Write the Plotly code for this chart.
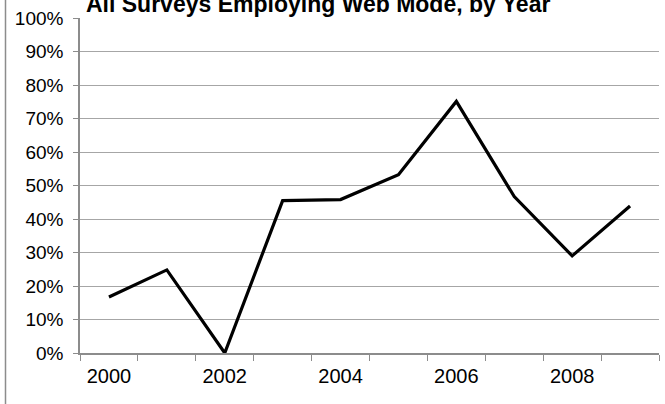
import plotly.graph_objects as go

# Share of surveys using the web mode, per year
years = ["2000", "2001", "2002", "2003", "2004", "2005", "2006", "2007", "2008", "2009"]
web_share = [0.167, 0.248, 0.0, 0.455, 0.458, 0.532, 0.751, 0.467, 0.290, 0.439]
year_labels = ["2000", "", "2002", "", "2004", "", "2006", "", "2008", ""]
title_text = "All Surveys Employing Web Mode, by Year"

W, H = 665, 404
ML, MR, MT, MB = 80, 6, 18, 51
plot_w = W - ML - MR
plot_h = H - MT - MB

fig = go.Figure()
fig.add_trace(go.Scatter(
    x=years, y=web_share, mode="lines",
    line=dict(color="black", width=3.2),
    hoverinfo="skip", showlegend=False,
))

axis_gray = "#8c8c8c"
grid_gray = "#a6a6a6"

fig.update_layout(
    width=W, height=H,
    margin=dict(l=ML, r=MR, t=MT, b=MB, pad=0),
    paper_bgcolor="white", plot_bgcolor="white",
    font=dict(family="Liberation Sans, Arial, sans-serif", color="black"),
    xaxis=dict(
        type="category",
        tickmode="array", tickvals=years, ticktext=year_labels,
        tickson="boundaries",
        ticks="outside", ticklen=6, tickwidth=1, tickcolor=axis_gray,
        showline=True, linecolor=axis_gray, linewidth=2,
        showgrid=False, zeroline=False,
        tickfont=dict(size=20, color="black"),
        ticklabelstandoff=4,
        range=[-0.5, len(years) - 0.5],
        fixedrange=True,
    ),
    yaxis=dict(
        range=[0, 1], dtick=0.1, tick0=0, tickformat=".0%",
        ticks="outside", ticklen=5, tickwidth=1, tickcolor=axis_gray,
        showline=True, linecolor=axis_gray, linewidth=1.5,
        showgrid=True, gridcolor=grid_gray, gridwidth=1,
        zeroline=False,
        tickfont=dict(size=19, color="black"),
        ticklabelstandoff=6,
        fixedrange=True,
    ),
)

# Chart title, partly above the top edge of the page
fig.add_annotation(
    text="<b>" + title_text + "</b>",
    xref="paper", yref="paper",
    x=(318 - ML) / plot_w, y=1 + (MT - 19) / plot_h,
    xanchor="center", yanchor="bottom",
    showarrow=False,
    font=dict(size=23, color="black", family="Liberation Sans, Arial, sans-serif"),
)

# Left border of the chart frame
fig.add_shape(
    type="line", xref="paper", yref="paper",
    x0=(5.5 - ML) / plot_w, x1=(5.5 - ML) / plot_w,
    y0=-MB / plot_h, y1=1 + MT / plot_h,
    line=dict(color=axis_gray, width=1.5),
)

fig.write_html("out.html")
